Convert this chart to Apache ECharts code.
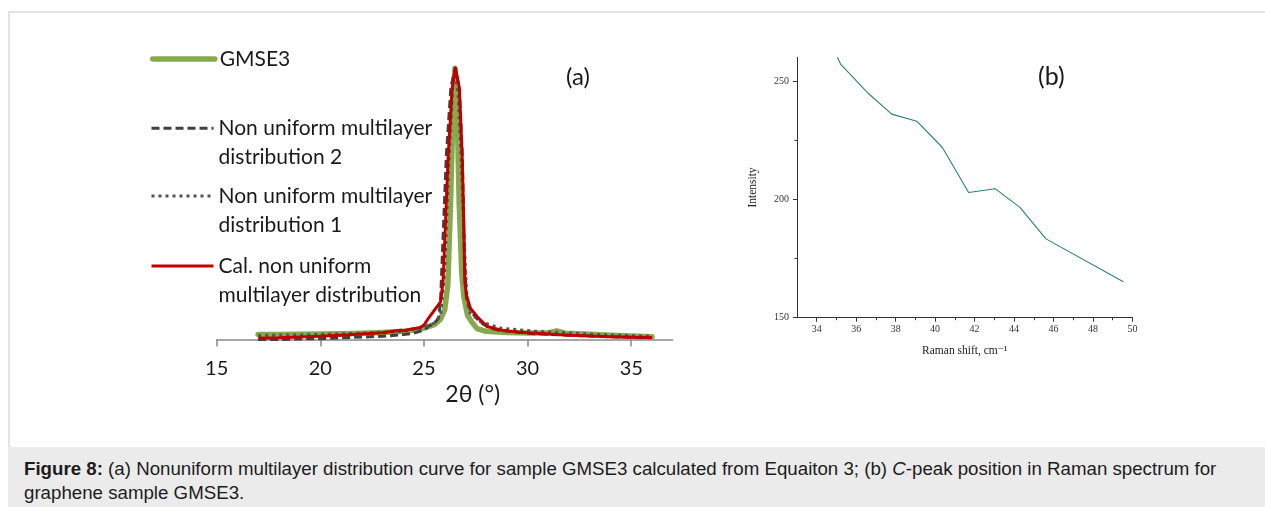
<!DOCTYPE html>
<html>
<head>
<meta charset="utf-8">
<script src="https://cdn.jsdelivr.net/npm/echarts@6/dist/echarts.min.js"></script>
<style>
  html, body { margin: 0; padding: 0; background: #ffffff; }
  body { width: 1265px; height: 507px; position: relative; overflow: hidden; }
  #frame { position: absolute; left: 8px; top: 11px; width: 1260px; height: 440px;
           border-left: 2px solid #e4e4e4; border-top: 2px solid #e4e4e4; box-sizing: border-box; }
  #caption { position: absolute; left: 8px; top: 447px; width: 1257px; height: 60px; background: #ebebeb;
             font-family: "Liberation Sans", Arial, sans-serif; font-size: 18.7px; line-height: 24px;
             color: #1c1c1c; padding: 10px 0 0 16px; box-sizing: border-box; white-space: nowrap; }
  #chart { position: absolute; left: 0; top: 0; width: 1265px; height: 447px; }
</style>
</head>
<body>
<div id="frame"></div>
<div id="caption"><b>Figure 8:</b> (a) Nonuniform multilayer distribution curve for sample GMSE3 calculated from Equaiton 3; (b) <i>C</i>-peak position in Raman spectrum for<br>graphene sample GMSE3.</div>
<div id="chart"></div>
<script>
// ---------- Panel (a): XRD curves (intensity normalised, peak = 100) ----------
const seriesNamesA = ['GMSE3', 'Non uniform multilayer\ndistribution 2', 'Non uniform multilayer\ndistribution 1', 'Cal. non uniform\nmultilayer distribution'];

const gmseX = [17, 18, 19, 20, 21, 22, 23, 24, 24.5, 25, 25.5, 25.8, 26.0, 26.15, 26.28, 26.4, 26.5, 26.6, 26.7, 26.82, 26.92, 27.1, 27.3, 27.56, 28, 29, 30, 31, 31.4, 31.8, 33, 34, 35, 36];
const gmseY = [1.8, 1.8, 1.9, 2.0, 2.1, 2.3, 2.6, 3.0, 3.5, 4.2, 5.5, 7.5, 11, 20, 50, 85, 100, 85, 50, 25, 16, 9, 6.5, 4.0, 3.0, 2.6, 2.4, 2.4, 3.2, 2.3, 1.9, 1.6, 1.3, 1.0];

const dist2X = [17, 18, 19, 20, 21, 22, 23, 24, 24.5, 25.0, 25.2, 25.5, 25.7, 25.8, 25.88, 26.08, 26.3, 26.5, 26.7, 26.85, 26.95, 27.05, 27.3, 27.7, 28.1, 28.7, 30, 31, 32, 33, 34, 35, 36];
const dist2Y = [0, 0, 0.2, 0.3, 0.6, 0.9, 1.2, 1.8, 2.3, 3.5, 4.8, 6.0, 7.8, 14, 29.7, 68, 93, 100, 93, 68, 30, 15, 10, 6.5, 4.5, 3.3, 2.3, 1.9, 1.6, 1.3, 1.0, 0.8, 0.6];

const dist1X = [17, 18, 19, 20, 21, 22, 23, 24, 25, 25.5, 25.8, 26.0, 26.2, 26.4, 26.5, 26.65, 26.8, 26.95, 27.05, 27.16, 27.72, 28.69, 30.27, 31.87, 33.47, 35.9];
const dist1Y = [1.5, 1.6, 1.7, 1.9, 2.1, 2.3, 2.6, 3.0, 4.5, 6.0, 9, 25, 65, 95, 100, 90, 65, 35, 18, 10.3, 6.6, 4.2, 3.1, 2.5, 1.8, 1.2];

const calX = [17, 18, 19, 20, 21, 22, 23, 23.87, 24, 24.5, 24.8, 25.0, 25.23, 25.47, 25.8, 25.92, 26.04, 26.17, 26.36, 26.52, 26.71, 26.84, 26.92, 26.97, 27.05, 27.24, 27.64, 28.05, 28.69, 29.5, 30, 31, 32, 33, 34, 35, 36];
const calY = [0.5, 0.6, 0.9, 1.2, 1.6, 2.0, 2.5, 3.4, 3.2, 4.0, 4.3, 5.3, 8.0, 10.5, 13.9, 21.3, 43.4, 68, 92.6, 100, 92.6, 68, 43.4, 21.3, 16.4, 11.5, 7.8, 4.8, 3.5, 2.8, 2.5, 2.0, 1.6, 1.3, 1.0, 0.8, 0.7];

const xTicksA = [15, 20, 25, 30, 35];

// ---------- Panel (b): Raman C-peak ----------
const ramanShift = [35.05, 35.22, 36.62, 37.80, 39.07, 40.37, 41.70, 43.04, 44.30, 45.62, 49.54];
const ramanIntensity = [260, 257.0, 244.7, 236.0, 233.0, 221.9, 202.9, 204.5, 196.6, 183.3, 165.2];
const xTicksB = [34, 36, 38, 40, 42, 44, 46, 48, 50];
const xMinorB = [35, 37, 39, 41, 43, 45, 47, 49];
const yTicksB = [150, 200, 250];
const yMinorB = [175, 225];
const cLabelText = 'C = 39.1';
const cLabelCoord = [38.57, 238.2];

const zip = (xs, ys) => xs.map((x, i) => [x, ys[i]]);

const sansA = 'Lato, "Open Sans", sans-serif';
const serifB = '"Liberation Serif", "DejaVu Serif", serif';

const chart = echarts.init(document.getElementById('chart'), null, { renderer: 'canvas' });

// One legend per item so each block sits where the reference puts it.
// Two-line names get a blank line in front so the icon lines up with the first text line.
function legendFor(name, top, iconStyle, twoLines) {
  return {
    data: [name],
    left: 150,
    top: top,
    orient: 'vertical',
    itemWidth: 62,
    itemHeight: 14,
    padding: 0,
    selectedMode: false,
    itemStyle: { opacity: 0 },
    lineStyle: iconStyle,
    formatter: twoLines ? (n => ' \n' + n) : (n => n),
    textStyle: { fontFamily: sansA, fontSize: 21, color: '#1a1a1a', lineHeight: 29 }
  };
}

const option = {
  animation: false,
  backgroundColor: 'transparent',
  title: [
    { text: '(a)', left: 566, top: 65, padding: 0, textStyle: { fontFamily: sansA, fontSize: 24, fontWeight: 'normal', color: '#1a1a1a' } },
    { text: '(b)', left: 1038, top: 64, padding: 0, textStyle: { fontFamily: sansA, fontSize: 25, fontWeight: 'normal', color: '#1a1a1a' } }
  ],
  legend: [
    legendFor(seriesNamesA[0], 44.5, { width: 5.5, color: '#86a94e', cap: 'round' }, false),
    legendFor(seriesNamesA[1], 84.8, { width: 3, color: '#404040', type: [8, 4] }, true),
    legendFor(seriesNamesA[2], 152.5, { width: 3, color: '#555555', type: [3, 4] }, true),
    legendFor(seriesNamesA[3], 222.5, { width: 3, color: '#c00000' }, true)
  ],
  grid: [
    { left: 216.7, top: 68.3, width: 456, height: 271.2 },
    { left: 797, top: 57.3, width: 335.4, height: 260.4 }
  ],
  xAxis: [
    {
      gridIndex: 0, type: 'value', min: 15, max: 37, position: 'bottom',
      axisLine: { show: true, lineStyle: { color: '#898989', width: 1.5 } },
      axisTick: { show: true, inside: false, length: 7, customValues: xTicksA, lineStyle: { color: '#898989', width: 1.5 } },
      axisLabel: { customValues: xTicksA, fontFamily: sansA, fontSize: 20, color: '#1a1a1a', margin: 19 },
      splitLine: { show: false },
      name: '2θ (°)', nameLocation: 'middle', nameGap: 43,
      nameTextStyle: { fontFamily: sansA, fontSize: 23, color: '#1a1a1a', padding: [0, 0, 0, 56] }
    },
    {
      gridIndex: 1, type: 'value', min: 33, max: 50, position: 'bottom',
      axisLine: { show: true, onZero: false, lineStyle: { color: '#333333', width: 1 } },
      axisTick: { show: true, inside: false, length: 4, customValues: xTicksB, lineStyle: { color: '#333333' } },
      axisLabel: { customValues: xTicksB, fontFamily: serifB, fontSize: 10, color: '#333333', margin: 7 },
      splitLine: { show: false },
      name: 'Raman shift, cm⁻¹', nameLocation: 'middle', nameGap: 27,
      nameTextStyle: { fontFamily: serifB, fontSize: 11.5, color: '#222222' }
    },
    {
      gridIndex: 1, type: 'value', min: 33, max: 50, position: 'bottom', offset: 0,
      axisLine: { show: false, onZero: false },
      axisTick: { show: true, inside: false, length: 2.5, customValues: xMinorB, lineStyle: { color: '#333333' } },
      axisLabel: { show: false },
      splitLine: { show: false }
    }
  ],
  yAxis: [
    { gridIndex: 0, type: 'value', min: 0, max: 100, show: false },
    {
      gridIndex: 1, type: 'value', min: 150, max: 260, position: 'left',
      axisLine: { show: true, onZero: false, lineStyle: { color: '#333333', width: 1 } },
      axisTick: { show: true, inside: false, length: 4, customValues: yTicksB, lineStyle: { color: '#333333' } },
      axisLabel: { customValues: yTicksB, fontFamily: serifB, fontSize: 10, color: '#333333', margin: 8 },
      splitLine: { show: false },
      name: 'Intensity', nameLocation: 'middle', nameGap: 38, nameRotate: 90,
      nameTextStyle: { fontFamily: serifB, fontSize: 11.5, color: '#222222' }
    },
    {
      gridIndex: 1, type: 'value', min: 150, max: 260, position: 'left', offset: 0,
      axisLine: { show: false, onZero: false },
      axisTick: { show: true, inside: false, length: 2.5, customValues: yMinorB, lineStyle: { color: '#333333' } },
      axisLabel: { show: false },
      splitLine: { show: false }
    }
  ],
  series: [
    {
      name: seriesNamesA[0], type: 'line', xAxisIndex: 0, yAxisIndex: 0, data: zip(gmseX, gmseY),
      symbol: 'none', clip: false, lineStyle: { color: '#86a94e', width: 5.5, join: 'round', cap: 'round' }, z: 2
    },
    {
      name: seriesNamesA[1], type: 'line', xAxisIndex: 0, yAxisIndex: 0, data: zip(dist2X, dist2Y),
      symbol: 'none', clip: false, lineStyle: { color: '#404040', width: 3, type: [8, 4], join: 'round' }, z: 3
    },
    {
      name: seriesNamesA[2], type: 'line', xAxisIndex: 0, yAxisIndex: 0, data: zip(dist1X, dist1Y),
      symbol: 'none', clip: false, lineStyle: { color: '#555555', width: 3, type: [3, 4], join: 'round' }, z: 4
    },
    {
      name: seriesNamesA[3], type: 'line', xAxisIndex: 0, yAxisIndex: 0, data: zip(calX, calY),
      symbol: 'none', clip: false, lineStyle: { color: '#c00000', width: 3, join: 'round' }, z: 5
    },
    {
      name: 'Raman', type: 'line', xAxisIndex: 1, yAxisIndex: 1, data: zip(ramanShift, ramanIntensity),
      symbol: 'none', lineStyle: { color: '#2a7f7f', width: 1.1 },
      markPoint: {
        symbol: 'circle', symbolSize: 1, itemStyle: { opacity: 0 },
        label: { show: true, formatter: cLabelText, position: [0, 0], align: 'left', verticalAlign: 'middle',
                 fontFamily: serifB, fontSize: 11.5, color: '#222222' },
        data: [{ coord: cLabelCoord }]
      }
    }
  ]
};
chart.setOption(option);
</script>
</body>
</html>
